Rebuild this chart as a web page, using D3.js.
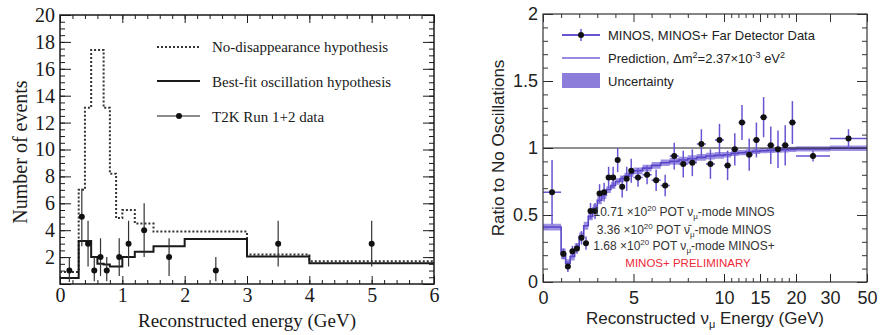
<!DOCTYPE html>
<html><head><meta charset="utf-8">
<script src="https://cdn.jsdelivr.net/npm/d3@7"></script>
<style>body{margin:0;background:#fff}svg{display:block}</style>
</head><body><svg id="c" width="880" height="335"></svg>
<script>
// ---------- LEFT PANEL DATA (T2K) ----------
const t2kBinEdges = [0,0.3,0.4,0.5,0.6,0.7,0.8,0.9,1.0,1.2,1.5,2.0,3.0,4.0,6.0];
const noDisappearance = [0.9,7.0,13.1,17.4,17.4,13.1,8.2,4.9,5.5,4.5,3.9,3.9,2.2,1.7];
const bestFit = [0.45,3.2,3.2,2.0,1.5,1.45,1.3,1.3,2.0,2.4,2.8,3.35,2.05,1.55];
const t2kE  = [0.15,0.35,0.45,0.55,0.65,0.75,0.95,1.1,1.35,1.75,2.5,3.5,5.0];
const t2kN  = [1,5,3,1,2,1,2,3,4,2,1,3,3];
const t2kLo = [0.15,2.8,1.3,0.2,0.6,0.2,0.6,1.3,2.0,0.6,0.2,1.3,1.3];
const t2kHi = [2.0,7.1,4.7,2.0,3.4,2.0,3.4,4.7,6.0,3.4,2.0,4.7,4.7];
const leftXTicks = [0,1,2,3,4,5,6];
const leftYTicks = [2,4,6,8,10,12,14,16,18,20];

// ---------- RIGHT PANEL DATA (MINOS) ----------
const minosEdges = [0,1,1.25,1.5,1.75,2,2.25,2.5,2.75,3,3.25,3.5,3.75,4,4.25,4.5,4.75,5,
  5.5,6,6.5,7,7.5,8,8.5,9,9.5,10,11,12,13,14,15,16,17,18,19,20,30,50];
const minosRatio = [0.67,0.21,0.115,0.23,0.25,0.33,0.29,0.53,0.53,0.66,0.67,0.78,0.78,0.91,0.71,0.77,0.83,
  0.78,0.80,0.76,0.72,0.94,0.88,0.89,1.03,0.88,1.06,
  0.87,0.99,1.19,0.95,1.06,1.23,1.02,0.99,1.02,1.19,0.94,1.07];
const minosErr = [0.24,0.04,0.04,0.04,0.04,0.05,0.05,0.06,0.06,0.07,0.07,0.08,0.08,0.09,0.08,0.09,0.09,
  0.07,0.07,0.08,0.08,0.1,0.1,0.1,0.11,0.11,0.12,
  0.11,0.12,0.13,0.12,0.13,0.15,0.14,0.14,0.15,0.16,0.04,0.07];
const prediction = [0.41,0.21,0.14,0.19,0.26,0.34,0.42,0.49,0.55,0.61,0.65,0.69,0.72,0.75,0.77,0.79,0.81,
  0.83,0.85,0.87,0.89,0.90,0.91,0.92,0.93,0.94,0.945,
  0.95,0.96,0.965,0.97,0.975,0.98,0.982,0.985,0.987,0.99,0.993,0.998];
const predUnc = [0.025,0.04,0.03,0.03,0.03,0.03,0.03,0.03,0.03,0.03,0.03,0.025,0.025,0.025,0.025,0.025,0.025,
  0.025,0.025,0.025,0.025,0.025,0.025,0.025,0.025,0.025,0.025,
  0.02,0.02,0.02,0.02,0.02,0.02,0.02,0.02,0.02,0.02,0.02,0.02];
const rightXTicks = [0,5,10,15,20,30,50];
const rightXMinor = [1,2,3,4,6,7,8,9,11,12,13,14,16,17,18,19];
const rightYTicks = [0,0.5,1,1.5,2];

const svg = d3.select("#c");
const serif = "'Liberation Serif','DejaVu Serif',serif";
const sans = "'Liberation Sans',Arial,sans-serif";

function addAxis(g, gen, tx, ty, font, size, color) {
  const a = g.append("g").attr("transform", `translate(${tx},${ty})`).call(gen);
  a.select(".domain").remove();
  a.selectAll("line").attr("stroke", color).attr("stroke-width", 1);
  a.selectAll("text").attr("font-family", font).attr("font-size", size).attr("fill", color);
  return a;
}

// ================= LEFT =================
const xL = d3.scaleLinear().domain([0,6]).range([60,434]);
const yL = d3.scaleLinear().domain([0,20]).range([284,15]);
const gL = svg.append("g");
const lc = "#1a1a1a";
const xMinorL = d3.range(0, 6.0001, 0.2);
const yMinorL = d3.range(0, 20.0001, 0.5);
const yMajorL = d3.range(0, 20.0001, 2);

addAxis(gL, d3.axisBottom(xL).tickValues(leftXTicks).tickSize(-8).tickPadding(4).tickFormat(d3.format("d")), 0, 284, serif, 20, lc);
addAxis(gL, d3.axisBottom(xL).tickValues(xMinorL).tickSize(-4).tickFormat(""), 0, 284, serif, 20, lc);
addAxis(gL, d3.axisTop(xL).tickValues(leftXTicks).tickSize(-8).tickFormat(""), 0, 15, serif, 20, lc);
addAxis(gL, d3.axisTop(xL).tickValues(xMinorL).tickSize(-4).tickFormat(""), 0, 15, serif, 20, lc);
addAxis(gL, d3.axisLeft(yL).tickValues(yMajorL).tickSize(-11).tickFormat(""), 60, 0, serif, 20, lc);
addAxis(gL, d3.axisLeft(yL).tickValues(leftYTicks).tickSize(0).tickPadding(5).tickFormat(d3.format("d")), 60, 0, serif, 20, lc);
addAxis(gL, d3.axisLeft(yL).tickValues(yMinorL).tickSize(-5).tickFormat(""), 60, 0, serif, 20, lc);
addAxis(gL, d3.axisRight(yL).tickValues(yMajorL).tickSize(-11).tickFormat(""), 434, 0, serif, 20, lc);
addAxis(gL, d3.axisRight(yL).tickValues(yMinorL).tickSize(-5).tickFormat(""), 434, 0, serif, 20, lc);

gL.append("rect").attr("x", xL(0)).attr("y", yL(20)).attr("width", xL(6)-xL(0)).attr("height", yL(0)-yL(20))
  .attr("fill", "none").attr("stroke", lc).attr("stroke-width", 1.5);

const stepLineL = d3.line().x(d => xL(d[0])).y(d => yL(d[1])).curve(d3.curveStepAfter);
const histPts = vals => t2kBinEdges.map((e,i) => [e, vals[Math.min(i, vals.length-1)]]);
gL.append("path").attr("d", stepLineL(histPts(noDisappearance))).attr("fill","none")
  .attr("stroke", "#333").attr("stroke-width", 2).attr("stroke-dasharray", "2,2");
gL.append("path").attr("d", stepLineL(histPts(bestFit))).attr("fill","none")
  .attr("stroke", lc).attr("stroke-width", 2);

gL.selectAll("line.err").data(t2kE).join("line").attr("class","err")
  .attr("x1", d => xL(d)).attr("x2", d => xL(d))
  .attr("y1", (d,i) => yL(t2kLo[i])).attr("y2", (d,i) => yL(t2kHi[i]))
  .attr("stroke", "#333").attr("stroke-width", 1.2);
gL.selectAll("circle.pt").data(t2kE).join("circle").attr("class","pt")
  .attr("cx", d => xL(d)).attr("cy", (d,i) => yL(t2kN[i])).attr("r", 3).attr("fill", "#111");

// left titles
gL.append("text").attr("x", 247).attr("y", 327).attr("text-anchor","middle")
  .attr("font-family", serif).attr("font-size", 19).attr("fill", lc).text("Reconstructed energy (GeV)");
gL.append("text").attr("transform","translate(27,152) rotate(-90)").attr("text-anchor","middle")
  .attr("font-family", serif).attr("font-size", 20).attr("fill", lc).text("Number of events");

// left legend
const legL = gL.append("g");
legL.append("line").attr("x1",157).attr("x2",200).attr("y1",47).attr("y2",47)
  .attr("stroke","#333").attr("stroke-width",2).attr("stroke-dasharray","2,2");
legL.append("line").attr("x1",157).attr("x2",200).attr("y1",81).attr("y2",81)
  .attr("stroke",lc).attr("stroke-width",2);
legL.append("line").attr("x1",157).attr("x2",200).attr("y1",116).attr("y2",116)
  .attr("stroke",lc).attr("stroke-width",1.2);
legL.append("circle").attr("cx",179).attr("cy",116).attr("r",3).attr("fill","#111");
[["No-disappearance hypothesis",47],["Best-fit oscillation hypothesis",82],["T2K Run 1+2 data",117]]
  .forEach(([t,y]) => legL.append("text").attr("x",212).attr("y",y).attr("dy","0.33em")
    .attr("font-family",serif).attr("font-size",15).attr("fill",lc).text(t));

// ================= RIGHT =================
const xR = d3.scaleLinear().domain([0,10,20,30,50]).range([543,724,796,830,867]);
const yR = d3.scaleLinear().domain([0,2]).range([282,14]);
const gR = svg.append("g");
const rc = "#333";
const yMinorR = d3.range(0, 2.0001, 0.1);
const purpleLine = "#5646c6";
const purpleErr = "#6656d2";
const bandFill = "#9385e0";

addAxis(gR, d3.axisBottom(xR).tickValues(rightXTicks).tickSize(-8).tickPadding(9).tickFormat(d3.format("d")), 0, 282, sans, 18, "#222");
addAxis(gR, d3.axisBottom(xR).tickValues(rightXMinor).tickSize(-4).tickFormat(""), 0, 282, sans, 17, rc);
addAxis(gR, d3.axisTop(xR).tickValues(rightXTicks).tickSize(-8).tickFormat(""), 0, 14, sans, 17, rc);
addAxis(gR, d3.axisTop(xR).tickValues(rightXMinor).tickSize(-4).tickFormat(""), 0, 14, sans, 17, rc);
addAxis(gR, d3.axisLeft(yR).tickValues(rightYTicks).tickSize(-10).tickPadding(5).tickFormat(d => d3.format("")(d)), 543, 0, sans, 18, "#222");
addAxis(gR, d3.axisLeft(yR).tickValues(yMinorR).tickSize(-5).tickFormat(""), 543, 0, sans, 17, rc);
addAxis(gR, d3.axisRight(yR).tickValues(rightYTicks).tickSize(-10).tickFormat(""), 867, 0, sans, 17, rc);
addAxis(gR, d3.axisRight(yR).tickValues(yMinorR).tickSize(-5).tickFormat(""), 867, 0, sans, 17, rc);

// band
const bandPts = minosEdges.map((e,i) => { const k = Math.min(i, prediction.length-1); return [e, prediction[k]-predUnc[k], prediction[k]+predUnc[k]]; });
gR.append("path").attr("d", d3.area().x(d => xR(d[0])).y0(d => yR(d[1])).y1(d => yR(d[2])).curve(d3.curveStepAfter)(bandPts))
  .attr("fill", bandFill).attr("opacity", 0.9);
gR.append("path").attr("d", d3.line().x(d => xR(d[0])).y(d => yR(d[1])).curve(d3.curveStepAfter)(minosEdges.map((e,i) => [e, prediction[Math.min(i, prediction.length-1)]])))
  .attr("fill","none").attr("stroke", purpleLine).attr("stroke-width", 1.6);

// ratio = 1 line
gR.append("line").attr("x1", xR(0)).attr("x2", xR(50)).attr("y1", yR(1)).attr("y2", yR(1))
  .attr("stroke", "#222").attr("stroke-width", 1);

// data
const bins = minosRatio.map((v,i) => ({lo: minosEdges[i], hi: minosEdges[i+1], v, e: minosErr[i]}));
gR.selectAll("line.xe").data(bins).join("line").attr("class","xe")
  .attr("x1", d => xR(d.lo)).attr("x2", d => xR(d.hi)).attr("y1", d => yR(d.v)).attr("y2", d => yR(d.v))
  .attr("stroke", purpleErr).attr("stroke-width", 1.5);
gR.selectAll("line.ye").data(bins).join("line").attr("class","ye")
  .attr("x1", d => xR((d.lo+d.hi)/2)).attr("x2", d => xR((d.lo+d.hi)/2))
  .attr("y1", d => yR(d.v - d.e)).attr("y2", d => yR(d.v + d.e))
  .attr("stroke", purpleErr).attr("stroke-width", 1.5);
gR.selectAll("circle.pt").data(bins).join("circle").attr("class","pt")
  .attr("cx", d => xR((d.lo+d.hi)/2)).attr("cy", d => yR(d.v)).attr("r", 3).attr("fill", "#111");

// frame
gR.append("rect").attr("x", xR(0)).attr("y", yR(2)).attr("width", xR(50)-xR(0)).attr("height", yR(0)-yR(2))
  .attr("fill","none").attr("stroke", rc).attr("stroke-width", 1.2);

// right legend
const legR = gR.append("g");
legR.append("line").attr("x1",562).attr("x2",600).attr("y1",35).attr("y2",35).attr("stroke",purpleErr).attr("stroke-width",1.8);
legR.append("line").attr("x1",581).attr("x2",581).attr("y1",29).attr("y2",41).attr("stroke",purpleErr).attr("stroke-width",1.5);
legR.append("circle").attr("cx",581).attr("cy",35).attr("r",3).attr("fill","#111");
legR.append("line").attr("x1",562).attr("x2",600).attr("y1",58).attr("y2",58).attr("stroke","#7464d6").attr("stroke-width",1.5);
legR.append("rect").attr("x",562).attr("y",73).attr("width",38).attr("height",15).attr("fill","#8c7ddb");
const t1 = legR.append("text").attr("x",608).attr("y",35).attr("dy","0.35em").attr("font-family",sans).attr("font-size",13).attr("fill","#222");
t1.text("MINOS, MINOS+ Far Detector Data");
const t2 = legR.append("text").attr("x",608).attr("y",58).attr("dy","0.35em").attr("font-family",sans).attr("font-size",13).attr("fill","#222");
t2.append("tspan").text("Prediction, \u0394m");
t2.append("tspan").attr("font-size",9).attr("dy","-5").text("2");
t2.append("tspan").attr("dy","5").text("=2.37\u00d710");
t2.append("tspan").attr("font-size",9).attr("dy","-5").text("-3");
t2.append("tspan").attr("dy","5").text(" eV");
t2.append("tspan").attr("font-size",9).attr("dy","-5").text("2");
legR.append("text").attr("x",608).attr("y",81).attr("dy","0.35em").attr("font-family",sans).attr("font-size",13).attr("fill","#222").text("Uncertainty");

// annotations
function potLine(y, num, nu, mode) {
  const t = gR.append("text").attr("x", 684).attr("y", y).attr("text-anchor","middle")
    .attr("font-family", sans).attr("font-size", 12).attr("fill", "#333");
  t.append("tspan").text(num + " \u00d710");
  t.append("tspan").attr("font-size",8).attr("dy","-5").text("20");
  t.append("tspan").attr("dy","5").text(" POT " + nu);
  t.append("tspan").attr("font-size",8).attr("dy","3").text("\u03bc");
  t.append("tspan").attr("dy","-3").text("-mode " + mode);
}
potLine(216, "10.71", "\u03bd", "MINOS");
potLine(234, "3.36", "\u03bd\u0304", "MINOS");
potLine(250, "1.68", "\u03bd", "MINOS+");
gR.append("text").attr("x", 688).attr("y", 267).attr("text-anchor","middle")
  .attr("font-family", sans).attr("font-size", 11.5).attr("fill", "#ee2a3a").text("MINOS+ PRELIMINARY");

// right titles
const xt = gR.append("text").attr("x", 705).attr("y", 324).attr("text-anchor","middle")
  .attr("font-family", sans).attr("font-size", 17).attr("fill", "#222");
xt.append("tspan").text("Reconstructed \u03bd");
xt.append("tspan").attr("font-size", 11).attr("dy", "4").text("\u03bc");
xt.append("tspan").attr("dy", "-4").text(" Energy (GeV)");
gR.append("text").attr("transform","translate(504,148) rotate(-90)").attr("text-anchor","middle")
  .attr("font-family", sans).attr("font-size", 17).attr("fill", "#222").text("Ratio to No Oscillations");
</script></body></html>
